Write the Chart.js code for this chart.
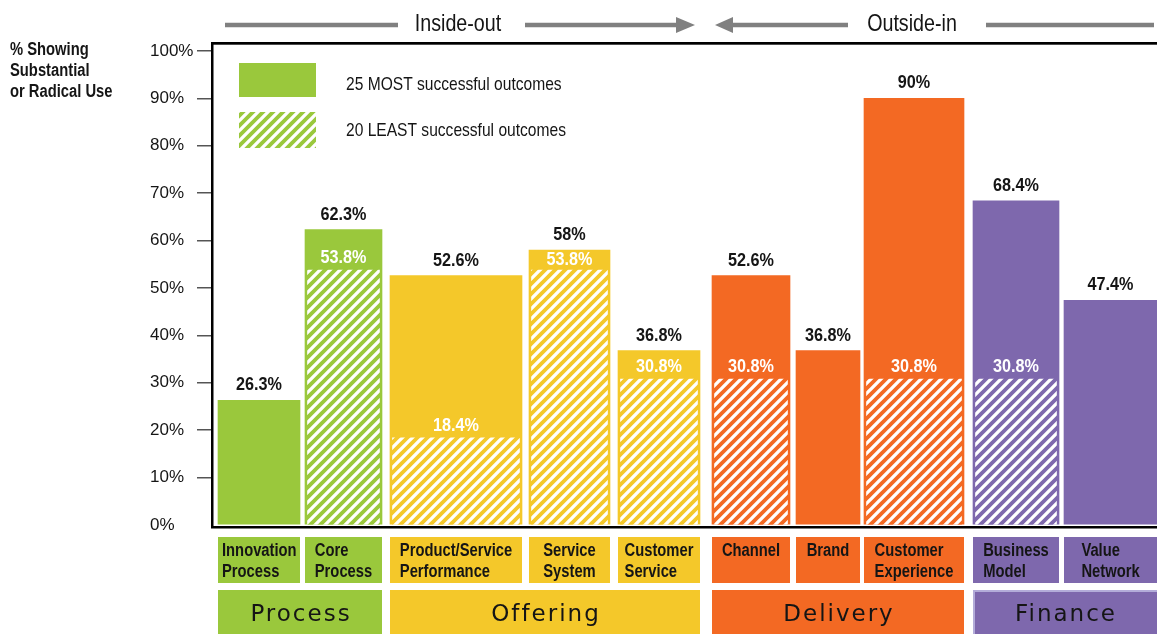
<!DOCTYPE html>
<html>
<head>
<meta charset="utf-8">
<script src="https://cdn.jsdelivr.net/npm/chart.js@4.4.1/dist/chart.umd.min.js"></script>
<style>
html,body{margin:0;padding:0;background:#ffffff;}
#wrap{width:1157px;height:634px;position:relative;overflow:hidden;}
</style>
</head>
<body>
<div id="wrap"><canvas id="c" width="1157" height="634"></canvas></div>
<script>
// ---------------- DATA ----------------
const categories = [
  ['Innovation', 'Process'],
  ['Core', 'Process'],
  ['Product/Service', 'Performance'],
  ['Service', 'System'],
  ['Customer', 'Service'],
  ['Channel'],
  ['Brand'],
  ['Customer', 'Experience'],
  ['Business', 'Model'],
  ['Value', 'Network']
];
const groups = ['Process', 'Offering', 'Delivery', 'Finance'];
const categoryGroup = [0, 0, 1, 1, 1, 2, 2, 2, 3, 3];
const mostValues  = [26.3, 62.3, 52.6, 58, 36.8, 52.6, 36.8, 90, 68.4, 47.4];
const leastValues = [null, 53.8, 18.4, 53.8, 30.8, 30.8, null, 30.8, 30.8, null];
const seriesNames = ['25 MOST successful outcomes', '20 LEAST successful outcomes'];
const yTickValues = [0, 10, 20, 30, 40, 50, 60, 70, 80, 90, 100];
const directionLabels = ['Inside-out', 'Outside-in'];
const yTitleLines = ['% Showing', 'Substantial', 'or Radical Use'];

// ---------------- STYLE ----------------
const groupColors = ['#9ac83c', '#f4c82a', '#f36923', '#7e68ad'];
const barWidths = [82, 77, 132, 81, 82, 78, 64, 100, 86, 93]; // x-axis units (1 unit = 1px)
const barGaps   = [6, 5, 8, 7, 8, 12, 6, 4, 9, 5];
const SANS = '"Liberation Sans", Arial, sans-serif';
const BAND_FONT = '"DejaVu Sans", sans-serif';
const TEXT = '#151515';
const NARROW_X = 0.82;

function hatch(color) {
  const s = 10;
  const c = document.createElement('canvas');
  c.width = s; c.height = s;
  const g = c.getContext('2d');
  g.fillStyle = color; g.fillRect(0, 0, s, s);
  g.strokeStyle = '#ffffff'; g.lineWidth = 3.3;
  g.beginPath();
  g.moveTo(0, s); g.lineTo(s, 0);
  g.moveTo(-s / 2, s / 2); g.lineTo(s / 2, -s / 2);
  g.moveTo(s / 2, s * 1.5); g.lineTo(s * 1.5, s / 2);
  g.stroke();
  return document.getElementById('c').getContext('2d').createPattern(c, 'repeat');
}

// condensed text: real fillText, squeezed horizontally
function text(ctx, str, x, y, font, align, color, sx) {
  ctx.save();
  ctx.font = font;
  ctx.fillStyle = color;
  ctx.textAlign = align;
  ctx.textBaseline = 'middle';
  ctx.translate(x, y);
  ctx.scale(sx, 1);
  ctx.fillText(str, 0, 0);
  ctx.restore();
}
function textWidth(ctx, str, font, sx) {
  ctx.save(); ctx.font = font;
  const w = ctx.measureText(str).width * sx;
  ctx.restore();
  return w;
}

// centers along the x scale computed from the layout widths
const centers = [];
let cum = 0;
barWidths.forEach((w, i) => { cum += barGaps[i]; centers.push(cum + w / 2); cum += w; });
const xMax = cum;

const datasets = [];
categories.forEach((cat, i) => {
  const col = groupColors[categoryGroup[i]];
  datasets.push({
    label: seriesNames[0], kind: 'most', cat: i,
    data: [{ x: centers[i], y: mostValues[i] }],
    backgroundColor: col, borderWidth: 0,
    barThickness: barWidths[i], grouped: false, order: 1
  });
  if (leastValues[i] !== null) {
    datasets.push({
      label: seriesNames[1], kind: 'least', cat: i,
      data: [{ x: centers[i], y: leastValues[i] }],
      backgroundColor: hatch(col), borderWidth: 0,
      barThickness: barWidths[i] - 5, grouped: false, order: 0
    });
  }
});

function barMeta(chart, catIndex, kind) {
  for (let d = 0; d < chart.data.datasets.length; d++) {
    const ds = chart.data.datasets[d];
    if (ds.kind === kind && ds.cat === catIndex) return chart.getDatasetMeta(d).data[0];
  }
  return null;
}
function barExtent(chart, catIndex) {
  const el = barMeta(chart, catIndex, 'most');
  return { left: el.x - el.width / 2, right: el.x + el.width / 2, x: el.x, top: el.y };
}

const decoPlugin = {
  id: 'deco',
  afterDatasetsDraw(chart) {
    const ctx = chart.ctx;
    const f = 'bold 18px ' + SANS;
    chart.data.datasets.forEach((ds, d) => {
      const el = chart.getDatasetMeta(d).data[0];
      const v = ds.data[0].y;
      if (ds.kind === 'most') {
        text(ctx, v + '%', el.x, el.y - 15, f, 'center', TEXT, 0.9);
      } else {
        const outer = barMeta(chart, ds.cat, 'most');
        const y = Math.max(el.y - 12, outer.y + 10);
        text(ctx, v + '%', el.x, y, f, 'center', '#ffffff', 0.9);
      }
    });
  },
  afterDraw(chart) {
    const ctx = chart.ctx;
    const ca = chart.chartArea;
    ctx.save();
    // frame
    ctx.fillStyle = '#000';
    ctx.fillRect(ca.left - 1, ca.top - 9, chart.width - ca.left + 1, 2.7);
    ctx.fillRect(ca.left - 1, ca.top - 9, 2.5, ca.bottom - ca.top + 12);
    ctx.fillRect(ca.left - 1, ca.bottom + 1, chart.width - ca.left + 1, 2.5);

    // y title
    yTitleLines.forEach((t, k) => text(ctx, t, 10, 50 + k * 21, 'bold 18px ' + SANS, 'left', TEXT, NARROW_X));

    // legend
    ctx.fillStyle = groupColors[0];
    ctx.fillRect(239, 63, 77, 34);
    ctx.fillStyle = hatch(groupColors[0]);
    ctx.fillRect(239, 112, 77, 36);
    text(ctx, seriesNames[0], 346, 85, '19px ' + SANS, 'left', TEXT, NARROW_X);
    text(ctx, seriesNames[1], 346, 131, '19px ' + SANS, 'left', TEXT, NARROW_X);

    // direction arrows
    const firstOut = barExtent(chart, 5);
    const ay = 25;
    ctx.strokeStyle = '#808080';
    ctx.fillStyle = '#808080';
    ctx.lineWidth = 4.5;
    ctx.beginPath();
    ctx.moveTo(225, ay); ctx.lineTo(398, ay);
    ctx.moveTo(525, ay); ctx.lineTo(firstOut.left - 34, ay);
    ctx.moveTo(firstOut.left + 20, ay); ctx.lineTo(848, ay);
    ctx.moveTo(986, ay); ctx.lineTo(1154, ay);
    ctx.stroke();
    ctx.beginPath();
    ctx.moveTo(firstOut.left - 36, ay - 8); ctx.lineTo(firstOut.left - 17, ay); ctx.lineTo(firstOut.left - 36, ay + 8); ctx.closePath();
    ctx.moveTo(firstOut.left + 21, ay - 8); ctx.lineTo(firstOut.left + 3, ay); ctx.lineTo(firstOut.left + 21, ay + 8); ctx.closePath();
    ctx.fill();
    text(ctx, directionLabels[0], 458, 24, '24px ' + SANS, 'center', TEXT, NARROW_X);
    text(ctx, directionLabels[1], 912, 24, '24px ' + SANS, 'center', TEXT, NARROW_X);

    // category boxes
    const boxTop = ca.bottom + 12, boxH = 46;
    const cf = 'bold 18px ' + SANS;
    categories.forEach((lines, i) => {
      const ex = barExtent(chart, i);
      ctx.fillStyle = groupColors[categoryGroup[i]];
      ctx.fillRect(ex.left, boxTop, ex.right - ex.left, boxH);
      const mw = Math.max(...lines.map(l => textWidth(ctx, l, cf, NARROW_X)));
      const sx = Math.max(ex.left + 4, ex.x - mw / 2);
      lines.forEach((l, k) => text(ctx, l, sx, boxTop + 14 + k * 21, cf, 'left', TEXT, NARROW_X));
    });

    // group bands
    const bandTop = ca.bottom + 65;
    groups.forEach((gName, g) => {
      let left = Infinity, right = -Infinity;
      categories.forEach((c, i) => {
        if (categoryGroup[i] === g) {
          const ex = barExtent(chart, i);
          left = Math.min(left, ex.left); right = Math.max(right, ex.right);
        }
      });
      ctx.fillStyle = groupColors[g];
      ctx.fillRect(left, bandTop, right - left, chart.height - bandTop);
      if (g === 3) {
        ctx.strokeStyle = '#b3acd9'; ctx.lineWidth = 2;
        ctx.strokeRect(left + 1, bandTop + 1, right - left, chart.height - bandTop);
      }
      ctx.fillStyle = TEXT;
      ctx.font = '23px ' + BAND_FONT;
      ctx.letterSpacing = '2px';
      ctx.textAlign = 'center';
      ctx.textBaseline = 'middle';
      ctx.fillText(gName, (left + right) / 2 + 1, bandTop + 25);
      ctx.letterSpacing = '0px';
    });
    ctx.restore();
  }
};

new Chart(document.getElementById('c'), {
  type: 'bar',
  data: { datasets },
  options: {
    responsive: false,
    animation: false,
    devicePixelRatio: 1,
    layout: { padding: { left: 150, right: 0, top: 51, bottom: 109 } },
    plugins: { legend: { display: false }, tooltip: { enabled: false } },
    scales: {
      x: { type: 'linear', min: 0, max: xMax, display: false, offset: false },
      y: {
        min: 0, max: 100,
        afterBuildTicks: (s) => { s.ticks = yTickValues.map(v => ({ value: v })); },
        afterFit: (s) => { s.width = 62; },
        ticks: {
          callback: (v) => v + '%',
          crossAlign: 'far',
          color: TEXT,
          font: { family: SANS, size: 17 }
        },
        grid: {
          drawOnChartArea: false, drawTicks: true, tickLength: 15,
          color: (c) => (c.tick && c.tick.value === 0) ? 'rgba(0,0,0,0)' : '#555',
          lineWidth: 1.5
        },
        border: { display: false }
      }
    }
  },
  plugins: [decoPlugin]
});
</script>
</body>
</html>
